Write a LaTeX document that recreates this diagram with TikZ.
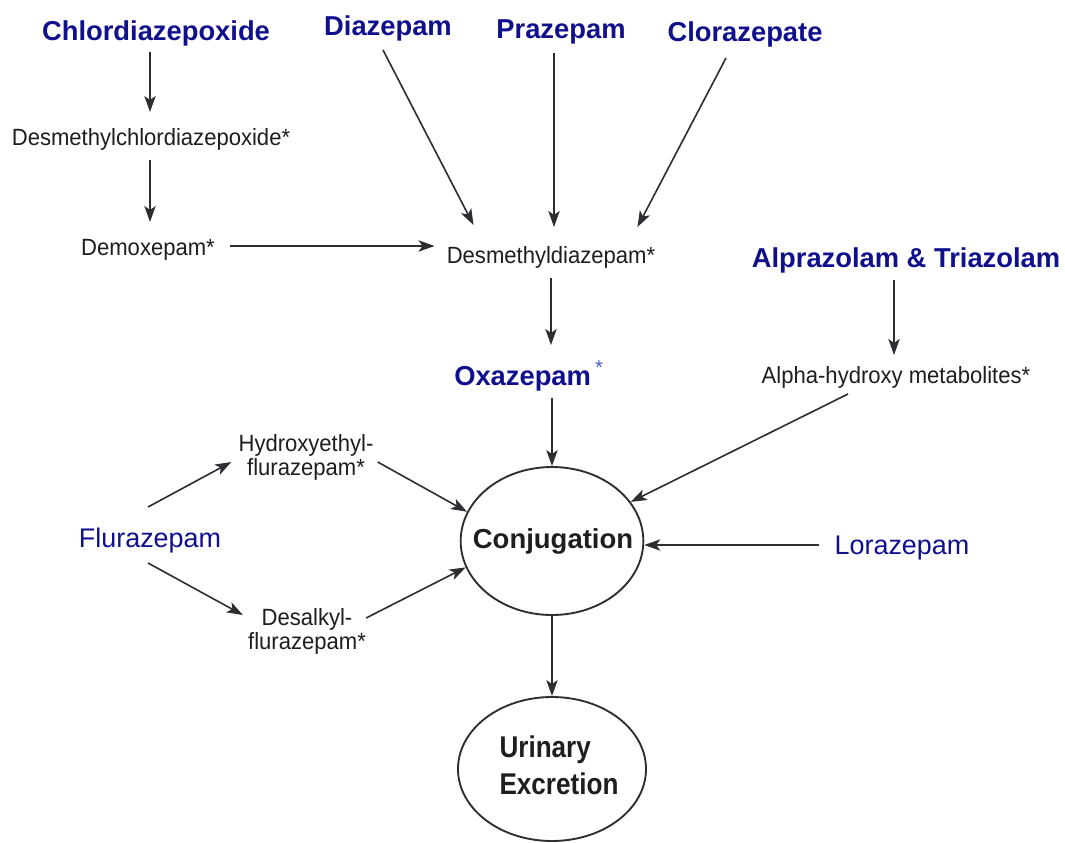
\documentclass[tikz,border=0pt]{standalone}
\usepackage{fontspec}
\setmainfont{Liberation Sans}
\newfontfamily\narrowfont[FakeStretch=0.94]{Liberation Sans}
\newfontfamily\urinfont[FakeStretch=0.87]{Liberation Sans}
\usetikzlibrary{arrows.meta,calc,shapes.geometric}
\definecolor{navy}{RGB}{16,16,140}
\definecolor{starblue}{RGB}{70,90,200}
\definecolor{ink}{RGB}{30,30,30}
\definecolor{linec}{RGB}{45,45,50}
\begin{document}
\begin{tikzpicture}[x=0.75pt,y=-0.75pt,
  drug/.style={inner sep=0pt,anchor=base,text=navy,font=\bfseries\fontsize{20.5}{24}\selectfont},
  drugreg/.style={inner sep=0pt,anchor=base,text=navy,font=\fontsize{20.2}{24}\selectfont},
  metab/.style={inner sep=0pt,anchor=base,text=ink,font=\narrowfont\fontsize{17.6}{18}\selectfont},
  metabtwo/.style={inner sep=0pt,align=center,text=ink,font=\narrowfont\fontsize{17.6}{18}\selectfont},
  stage/.style={draw=linec,line width=1.4pt,ellipse,inner sep=0pt,text=ink},
  arr/.style={draw=linec,line width=1.2pt,-{Stealth[length=12pt,width=8.5pt,inset=3pt]}}]
\fill[white] (0,0) rectangle (1065,843);
\useasboundingbox (0,0) rectangle (1065,843);

\node[drug] (chlor) at (156,40) {Chlordiazepoxide};
\node[drug] (diaz) at (388,35) {Diazepam};
\node[drug] (praz) at (561,38) {Prazepam};
\node[drug] (cloraz) at (745,41) {Clorazepate};
\node[metab] (dmcdp) at (151,145) {Desmethylchlordiazepoxide*};
\node[metab] (demox) at (148,255) {Demoxepam*};
\node[metab] (dmdz) at (551,263) {Desmethyldiazepam*};
\node[drug] (alp) at (906,267) {Alprazolam \& Triazolam};
\node[drug,anchor=base west] (oxa) at (454,385) {Oxazepam\hspace{3pt}\raisebox{8pt}{\mdseries\fontsize{15}{15}\selectfont\color{starblue}*}};
\node[metab] (alpha) at (896,383) {Alpha-hydroxy metabolites*};
\node[metabtwo] (hyd) at (306,457) {Hydroxyethyl-\\flurazepam*};
\node[drugreg] (flur) at (150,547) {Flurazepam};
\node[stage,minimum width=137pt,minimum height=111pt,font=\bfseries\fontsize{20.6}{24}\selectfont] (conj) at (552,541) {\makebox[0pt]{\hspace{1.5pt}Conjugation}};
\node[drugreg] (lora) at (902,554) {Lorazepam};
\node[metabtwo] (desalk) at (307,631) {Desalkyl-\\flurazepam*};
\node[stage,minimum width=141pt,minimum height=108pt,font=\urinfont\bfseries\fontsize{22.5}{27.75}\selectfont] (urin) at (552,769) {\makebox[0pt]{\hspace{10.5pt}\raisebox{-2.2pt}{\begin{tabular}{@{}l@{}}Urinary\\Excretion\end{tabular}}}};

\draw[arr] ($(chlor.base)+(-6,12)$) -- ($(dmcdp.base)+(-1,-33)$);
\draw[arr] ($(dmcdp.base)+(-1,15)$) -- ($(demox.base)+(2,-33)$);
\draw[arr] ($(demox.base east)+(15,-9)$) -- ($(dmdz.base west)+(-12,-17)$);
\draw[arr] ($(diaz.base)+(-5,15)$) -- ($(dmdz.base west)+(27,-38)$);
\draw[arr] ($(praz.base)+(-7,15)$) -- ($(dmdz.base)+(3,-36)$);
\draw[arr] ($(cloraz.base)+(-19,17)$) -- ($(dmdz.base east)+(-18,-36)$);
\draw[arr] ($(dmdz.base)+(0,15)$) -- ($(dmdz.base |- oxa.base)+(0,-40)$);
\draw[arr] ($(conj.north |- oxa.base)+(0,13)$) -- (conj.north);
\draw[arr] ($(alp.base)+(-12,13)$) -- ($(alpha.base)+(-2,-28)$);
\draw[arr] ($(alpha.base)+(-48,11)$) -- (conj);
\draw[arr] ($(flur.base)+(-2,-40)$) -- ($(hyd.west)+(-7,5)$);
\draw[arr] ($(hyd.east)+(4,5)$) -- (conj.161);
\draw[arr] ($(flur.base)+(-2,16)$) -- ($(desalk.west)+(-5,-16)$);
\draw[arr] ($(desalk.east)+(0,-13)$) -- (conj.197);
\draw[arr] ($(lora.base west)+(-15,-9)$) -- (conj.east |- {$(lora.base west)+(-15,-9)$});
\draw[arr] (conj.south) -- (urin.north);
\end{tikzpicture}
\end{document}
